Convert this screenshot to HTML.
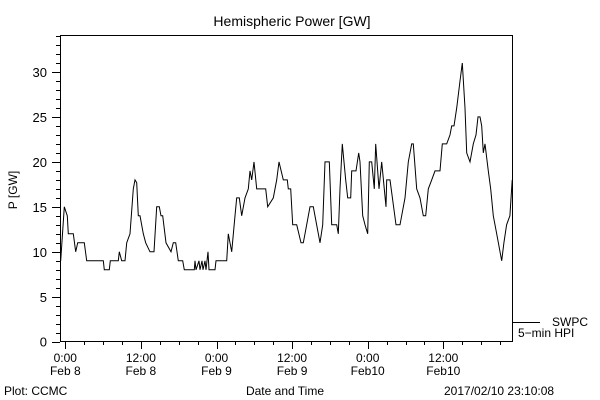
<!DOCTYPE html>
<html><head><meta charset="utf-8"><style>
html,body{margin:0;padding:0;background:#fff;}
svg{display:block;font-family:"Liberation Sans",sans-serif;}
</style></head><body>
<svg id="chart" width="600" height="400" viewBox="0 0 600 400" xmlns="http://www.w3.org/2000/svg">
<rect width="600" height="400" fill="#fff"/>
<text x="292" y="26" font-size="14" text-anchor="middle">Hemispheric Power [GW]</text>
<rect x="60.5" y="35.5" width="452" height="306" fill="none" stroke="#000" stroke-width="1"/>
<g id="yaxis"></g>
<g id="xaxis"></g>
<text transform="translate(17,190) rotate(-90)" font-size="12" text-anchor="middle">P [GW]</text>
<polyline id="series" fill="none" stroke="#000" stroke-width="1"/>
<line x1="512" y1="322.5" x2="540" y2="322.5" stroke="#000"/>
<text x="552" y="326" font-size="12">SWPC</text>
<text x="518" y="337" font-size="12">5−min HPI</text>
<text x="285" y="395" font-size="12" text-anchor="middle">Date and Time</text>
<text x="4" y="395" font-size="12">Plot: CCMC</text>
<text x="444" y="395" font-size="12">2017/02/10 23:10:08</text>
</svg>
<script>
const hours=[-0.73,-0.16,0.32,0.48,1.27,1.65,1.97,3.02,3.40,6.03,6.19,6.98,7.14,8.41,8.57,8.95,9.48,9.75,10.27,10.79,11.06,11.33,11.59,11.86,12.38,12.76,13.44,14.08,14.51,14.92,15.19,15.46,15.98,16.78,17.14,17.52,17.94,18.63,18.89,20.48,20.59,20.75,21.22,21.38,21.70,21.86,22.17,22.33,22.65,22.81,23.76,23.92,25.62,25.87,26.41,26.94,27.21,27.62,28.00,28.52,29.05,29.32,29.59,29.95,30.38,31.81,32.13,33.02,33.56,33.92,34.60,35.24,35.40,35.78,36.10,36.73,37.41,37.78,38.05,38.84,39.37,40.43,40.86,41.22,41.90,42.29,43.08,43.33,43.60,43.97,44.51,44.83,45.30,45.46,46.14,46.57,46.78,47.21,47.57,48.00,48.25,48.63,49.05,49.27,49.79,50.22,50.90,51.02,51.54,52.49,53.13,53.92,54.44,54.98,55.24,55.78,56.30,56.83,57.21,57.62,58.16,58.68,59.48,59.84,60.54,61.06,61.33,61.70,62.13,62.65,63.02,63.44,63.71,64.24,64.76,65.19,65.51,65.83,66.10,66.35,66.62,67.14,67.52,67.94,68.48,69.27,69.62,70.05,70.57,70.94];
const power=[9,15,14,12,12,10,11,11,9,9,8,8,9,9,10,9,9,11,12,17,18,17.7,14,14,12,11,10,10,15,15,14,14,11,10,11,11,9,9,8,8,9,8,9,8,9,8,9,8,10,8,8,9,9,12,10,14,16,16,14,16,17,19,18,20,17,17,15,16,18,20,18,18,17,17,13,13,11,11,12,15,15,11,13,20,20,13,13,12,17,22,18,16,16,19,19,21,20,14,13,12,20,20,17,22,17,20,15,18,18,13,13,16,20,22,22,17,16,14,14,17,18,19,19,22,22,23,24,24,26,29,31,26,21,20,22,23,25,25,24,21,22,19,17,14,12,9,11,13,14,18];
const yTickValues=[0,5,10,15,20,25,30];
const xTickHours=[0,12,24,36,48,60];
const xTickTimes=["0:00","12:00","0:00","12:00","0:00","12:00"];
const xTickDates=["Feb 8","Feb 8","Feb 9","Feb 9","Feb10","Feb10"];

const NS="http://www.w3.org/2000/svg";
function xScale(h){return 65.3+6.3*h;}
function yScale(v){return 341.7-8.99*v;}
function mk(tag,attrs,parent){const e=document.createElementNS(NS,tag);for(const k in attrs)e.setAttribute(k,attrs[k]);parent.appendChild(e);return e;}

const ya=document.getElementById('yaxis');
for(let v=0;v<=34;v++){
  const y=Math.round(yScale(v))+0.5;
  const major=v%5===0;
  const t=mk('line',{x1:major?52:56,x2:60,y1:y,y2:y,stroke:'#000'},ya);
  
  
}
yTickValues.forEach(v=>{
  const t=mk('text',{x:47,y:yScale(v)+5,'font-size':13,'text-anchor':'end'},ya);
  
  
  t.textContent=String(v);
});
const xa=document.getElementById('xaxis');
for(let h=0;h<=69;h+=3){
  const x=Math.round(xScale(h))+0.5;
  const major=h%12===0;
  const t=mk('line',{x1:x,x2:x,y1:341,y2:major?349:345,stroke:'#000'},xa);
  
  
}
xTickHours.forEach((h,i)=>{
  const a=mk('text',{x:xScale(h),y:362,'font-size':12,'text-anchor':'middle'},xa);
  
  
  a.textContent=xTickTimes[i];
  const b=mk('text',{x:xScale(h),y:375,'font-size':12,'text-anchor':'middle'},xa);
  
  
  b.textContent=xTickDates[i];
});
document.getElementById('series').setAttribute('points',hours.map((h,i)=>xScale(h).toFixed(1)+','+yScale(power[i]).toFixed(1)).join(' '));
</script>
</body></html>
